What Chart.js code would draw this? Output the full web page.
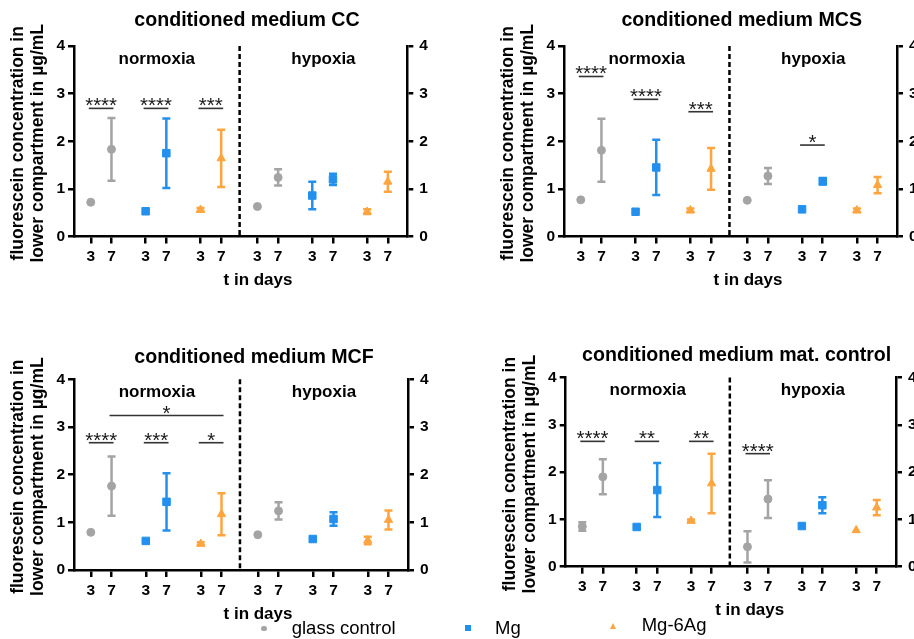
<!DOCTYPE html>
<html>
<head>
<meta charset="utf-8">
<script src="https://cdn.jsdelivr.net/npm/chart.js@4.4.1/dist/chart.umd.min.js"></script>
<style>
  html, body { margin: 0; padding: 0; background: #fff; }
  body { width: 914px; height: 639px; position: relative; overflow: hidden; font-family: "Liberation Sans", Arial, sans-serif; }
  canvas { position: absolute; }
  .lg-text { position: absolute; font-size: 18.5px; line-height: 20px; white-space: nowrap; color: #000; }
  .lg-mark { position: absolute; }
</style>
</head>
<body>
<canvas id="cc" width="457" height="320" style="left:0;top:0"></canvas>
<canvas id="mcs" width="457" height="320" style="left:457px;top:0"></canvas>
<canvas id="mcf" width="457" height="319" style="left:0;top:320px"></canvas>
<canvas id="mat" width="457" height="319" style="left:457px;top:320px"></canvas>
<div id="legend"></div>
<script>
// categories
const seriesNames = ['glass control', 'Mg', 'Mg-6Ag'];
const conditions = ['normoxia', 'hypoxia'];
const dayLabels = ['3', '7'];
const yTitle = ['fluorescein concentration in', 'lower compartment in µg/mL'];
const xTitle = 't in days';
const yTicks = [0, 1, 2, 3, 4];

// values per series: [normoxia d3, normoxia d7, hypoxia d3, hypoxia d7]
const ccGlass = [0.72, 1.83, 0.63, 1.24];
const ccGlassSd = [0, 0.66, 0, 0.17];
const ccMg = [0.53, 1.75, 0.86, 1.20];
const ccMgSd = [0, 0.73, 0.29, 0.12];
const ccAg = [0.56, 1.64, 0.52, 1.15];
const ccAgSd = [0.04, 0.60, 0.05, 0.21];

const mcsGlass = [0.77, 1.81, 0.76, 1.27];
const mcsGlassSd = [0, 0.66, 0, 0.17];
const mcsMg = [0.52, 1.45, 0.57, 1.16];
const mcsMgSd = [0, 0.58, 0, 0.07];
const mcsAg = [0.55, 1.42, 0.55, 1.08];
const mcsAgSd = [0.04, 0.44, 0.04, 0.17];

const mcfGlass = [0.79, 1.76, 0.74, 1.24];
const mcfGlassSd = [0, 0.62, 0, 0.18];
const mcfMg = [0.61, 1.43, 0.65, 1.07];
const mcfMgSd = [0, 0.60, 0, 0.14];
const mcfAg = [0.55, 1.17, 0.62, 1.05];
const mcfAgSd = [0.03, 0.44, 0.08, 0.20];

const matGlass = [0.85, 1.90, 0.42, 1.43];
const matGlassSd = [0.09, 0.37, 0.33, 0.40];
const matMg = [0.84, 1.62, 0.86, 1.30];
const matMgSd = [0, 0.57, 0, 0.17];
const matAg = [0.97, 1.76, 0.77, 1.25];
const matAgSd = [0.03, 0.63, 0, 0.16];

// significance brackets: [from slot, to slot, height, stars]
const ccSig = [[0, 1, 2.69, '****'], [2, 3, 2.69, '****'], [4, 5, 2.69, '***']];
const mcsSig = [[0, 1, 3.36, '****'], [2, 3, 2.88, '****'], [4, 5, 2.62, '***'], [8, 9, 1.92, '*']];
const mcfSig = [[0, 1, 2.67, '****'], [2, 3, 2.67, '***'], [4, 5, 2.67, '*'], [1, 5, 3.24, '*']];
const matSig = [[0, 1, 2.65, '****'], [2, 3, 2.65, '**'], [4, 5, 2.65, '**'], [6, 7, 2.39, '****']];

// slot layout: 3 groups per condition, 2 days per group
const slotX = [];
for (let g = 0; g < 6; g++) {
    for (let d = 0; d < 2; d++) slotX.push(0.81 + 2.65 * g + d + (g >= 3 ? 0.1 : 0));
}
const xMax = 16.1, dividerX = 8.0;
const seriesSlots = [[0, 1, 6, 7], [2, 3, 8, 9], [4, 5, 10, 11]];
const colors = ['#a4a4a4', '#2390ee', '#ffa53f'];
const styles = ['circle', 'rect', 'triangle'];
const radii = [4, 5.3, 4.8];
const FONT = '"Liberation Sans", Arial, sans-serif';

const panelDecor = {
    id: 'panelDecor',
    beforeDatasetsDraw(chart) {
        const { ctx, chartArea: a, scales: { x, y } } = chart;
        ctx.save();
        // normoxia / hypoxia divider
        const dx = x.getPixelForValue(dividerX);
        ctx.strokeStyle = '#000';
        ctx.lineWidth = 2.5;
        ctx.setLineDash([5, 3]);
        ctx.beginPath();
        ctx.moveTo(dx, a.top);
        ctx.lineTo(dx, a.bottom);
        ctx.stroke();
        ctx.setLineDash([]);
        // error bars (mean ± SD)
        chart.data.datasets.forEach((ds, di) => {
            const meta = chart.getDatasetMeta(di);
            ctx.strokeStyle = ds.borderColor;
            ctx.lineWidth = 2.5;
            ds.errors.forEach((s, i) => {
                if (!s) return;
                const px = meta.data[i].x;
                const t = y.getPixelForValue(ds.data[i].y + s);
                const b = y.getPixelForValue(ds.data[i].y - s);
                ctx.beginPath();
                ctx.moveTo(px, t); ctx.lineTo(px, b);
                ctx.moveTo(px - 4, t); ctx.lineTo(px + 4, t);
                ctx.moveTo(px - 4, b); ctx.lineTo(px + 4, b);
                ctx.stroke();
            });
        });
        ctx.restore();
    },
    afterDraw(chart, args, o) {
        const { ctx, chartArea: a, scales: { x, y } } = chart;
        const dx = x.getPixelForValue(dividerX);
        ctx.save();
        ctx.fillStyle = '#000';
        ctx.textAlign = 'center';
        ctx.textBaseline = 'middle';
        // panel title
        ctx.font = 'bold 19.6px ' + FONT;
        ctx.fillText(o.title, o.titleX, o.titleY);
        // condition labels
        ctx.font = 'bold 17px ' + FONT;
        ctx.fillText(conditions[0], (a.left + dx) / 2, a.top + 13);
        ctx.fillText(conditions[1], (dx + a.right) / 2, a.top + 13);
        // x title
        ctx.fillText(xTitle, a.left + 184, a.bottom + 44);
        // y title (two lines)
        ctx.font = 'bold 17.5px ' + FONT;
        yTitle.forEach((line, i) => {
            ctx.save();
            ctx.translate(o.yTitleX + i * 20, (a.top + a.bottom) / 2 + 2);
            ctx.rotate(-Math.PI / 2);
            ctx.fillText(line, 0, 0);
            ctx.restore();
        });
        // significance brackets
        ctx.strokeStyle = '#333';
        ctx.lineWidth = 1.6;
        ctx.font = '20.5px ' + FONT;
        ctx.textBaseline = 'alphabetic';
        ctx.fillStyle = '#1a1a1a';
        o.brackets.forEach(([f, t, v, label]) => {
            const x1 = x.getPixelForValue(slotX[f]) - 2;
            const x2 = x.getPixelForValue(slotX[t]) + 2;
            const py = y.getPixelForValue(v);
            ctx.beginPath();
            ctx.moveTo(x1, py);
            ctx.lineTo(x2, py);
            ctx.stroke();
            ctx.fillText(label, (x1 + x2) / 2, py + 4);
        });
        ctx.restore();
    }
};

function yScale(position, width, pad) {
    return {
        position: position,
        min: 0,
        max: 4,
        afterBuildTicks: s => { s.ticks = yTicks.map(v => ({ value: v })); },
        afterFit: s => { s.width = width; },
        ticks: { color: '#000', padding: pad, font: { family: FONT, size: 15.5, weight: 'bold' } },
        grid: { drawOnChartArea: false, tickLength: 6, lineWidth: 2.5, color: '#000' },
        border: { color: '#000', width: 2.5 }
    };
}

function makePanel(id, p) {
    const datasets = p.series.map((vals, si) => ({
        label: seriesNames[si],
        data: vals.map((v, i) => ({ x: slotX[seriesSlots[si][i]], y: v })),
        errors: p.errors[si],
        pointStyle: styles[si],
        pointRadius: radii[si],
        backgroundColor: colors[si],
        borderColor: colors[si],
        borderWidth: 1,
        showLine: false
    }));
    new Chart(document.getElementById(id), {
        type: 'scatter',
        data: { datasets: datasets },
        options: {
            responsive: false,
            animation: false,
            events: [],
            layout: { padding: { left: 0, right: 0, top: p.top, bottom: p.bottom } },
            plugins: {
                legend: { display: false },
                tooltip: { enabled: false },
                panelDecor: { title: p.title, titleX: p.titleX, titleY: p.titleY, yTitleX: p.yTitleX, brackets: p.brackets }
            },
            scales: {
                x: {
                    type: 'linear',
                    min: 0,
                    max: xMax,
                    afterBuildTicks: s => { s.ticks = slotX.map(v => ({ value: v })); },
                    afterFit: s => { s.height = 40; },
                    ticks: {
                        autoSkip: false,
                        maxRotation: 0,
                        padding: 4,
                        color: '#000',
                        font: { family: FONT, size: 15.5, weight: 'bold' },
                        callback: (v, i) => dayLabels[i % 2]
                    },
                    grid: { drawOnChartArea: false, tickLength: 7, lineWidth: 2.5, color: '#000' },
                    border: { color: '#000', width: 2.5 }
                },
                y: yScale('left', p.leftW, 3),
                y2: yScale('right', p.rightW, 6)
            }
        },
        plugins: [panelDecor]
    });
}

makePanel('cc', {
    title: 'conditioned medium CC', titleX: 247, titleY: 21, yTitleX: 18,
    top: 46, bottom: 43.5, leftW: 74, rightW: 49.7,
    series: [ccGlass, ccMg, ccAg], errors: [ccGlassSd, ccMgSd, ccAgSd], brackets: ccSig
});
makePanel('mcs', {
    title: 'conditioned medium MCS', titleX: 284.7, titleY: 21, yTitleX: 51,
    top: 46, bottom: 43.5, leftW: 107, rightW: 17,
    series: [mcsGlass, mcsMg, mcsAg], errors: [mcsGlassSd, mcsMgSd, mcsAgSd], brackets: mcsSig
});
makePanel('mcf', {
    title: 'conditioned medium MCF', titleX: 254, titleY: 38, yTitleX: 18.3,
    top: 59.3, bottom: 29, leftW: 74, rightW: 49,
    series: [mcfGlass, mcfMg, mcfAg], errors: [mcfGlassSd, mcfMgSd, mcfAgSd], brackets: mcfSig
});
makePanel('mat', {
    title: 'conditioned medium mat. control', titleX: 279.7, titleY: 36, yTitleX: 53,
    top: 57.5, bottom: 32.3, leftW: 108.7, rightW: 18,
    series: [matGlass, matMg, matAg], errors: [matGlassSd, matMgSd, matAgSd], brackets: matSig
});

// shared legend along the bottom
const legendPos = [
    { mx: 264, my: 628.3, tx: 291.7, ty: 617.9 },
    { mx: 467.7, my: 628.3, tx: 495, ty: 617.9 },
    { mx: 613.3, my: 625.7, tx: 641.7, ty: 614.6 }
];
const legend = document.getElementById('legend');
seriesNames.forEach((name, i) => {
    const p = legendPos[i];
    const m = document.createElement('div');
    m.className = 'lg-mark';
    if (i === 0) {
        m.style.cssText = `left:${p.mx - 2.7}px;top:${p.my - 2.7}px;width:5.4px;height:5.4px;border-radius:50%;background:${colors[0]}`;
    } else if (i === 1) {
        m.style.cssText = `left:${p.mx - 3}px;top:${p.my - 3}px;width:6px;height:6px;background:${colors[1]}`;
    } else {
        m.style.cssText = `left:${p.mx - 3.5}px;top:${p.my - 3}px;width:0;height:0;border-left:3.5px solid transparent;border-right:3.5px solid transparent;border-bottom:6px solid ${colors[2]}`;
    }
    legend.appendChild(m);
    const t = document.createElement('div');
    t.className = 'lg-text';
    t.style.left = p.tx + 'px';
    t.style.top = p.ty + 'px';
    t.textContent = name;
    legend.appendChild(t);
});
</script>
</body>
</html>
